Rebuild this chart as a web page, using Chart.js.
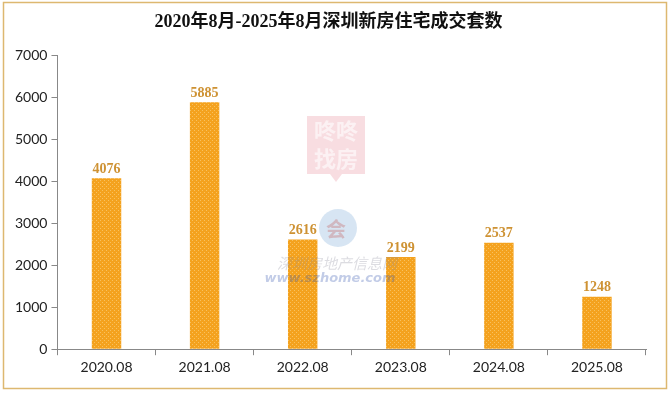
<!DOCTYPE html>
<html>
<head>
<meta charset="utf-8">
<script src="https://cdn.jsdelivr.net/npm/chart.js@4/dist/chart.umd.min.js"></script>
<style>
  html, body { margin: 0; padding: 0; background: #fff; }
  #wrap { width: 671px; height: 394px; }
</style>
</head>
<body>
<div id="wrap"><canvas id="chart" width="671" height="394"></canvas></div>
<script>
const months = ['2020.08', '2021.08', '2022.08', '2023.08', '2024.08', '2025.08'];
const sales = [4076, 5885, 2616, 2199, 2537, 1248];
const titleText = '2020年8月-2025年8月深圳新房住宅成交套数';

// dotted orange fill like the original bars
function barPattern() {
  const c = document.createElement('canvas');
  c.width = 4; c.height = 4;
  const g = c.getContext('2d');
  g.fillStyle = '#F4A21E';
  g.fillRect(0, 0, 4, 4);
  g.fillStyle = '#F9C15E';
  g.fillRect(0, 0, 1, 1);
  g.fillRect(2, 2, 1, 1);
  return g.createPattern(c, 'repeat');
}

const frameAndMarks = {
  id: 'frameAndMarks',
  beforeDraw(chart) {
    const ctx = chart.ctx;
    ctx.save();
    ctx.strokeStyle = '#DDB870';
    ctx.lineWidth = 1.5;
    ctx.strokeRect(3.5, 2.5, 663, 386);
    ctx.restore();
  },
  afterDatasetsDraw(chart) {
    const ctx = chart.ctx;
    const meta = chart.getDatasetMeta(0);
    ctx.save();
    ctx.fillStyle = '#CE9233';
    ctx.font = 'bold 14px "Liberation Serif"';
    ctx.textAlign = 'center';
    ctx.textBaseline = 'bottom';
    meta.data.forEach((bar, i) => {
      ctx.fillText(String(sales[i]), bar.x, bar.y - 2);
    });
    ctx.restore();
  },
  afterDraw(chart) {
    // faint watermarks on top
    const ctx = chart.ctx;
    ctx.save();
    ctx.textAlign = 'center';
    ctx.textBaseline = 'middle';
    ctx.globalAlpha = 0.18;
    ctx.fillStyle = '#D9435A';
    ctx.fillRect(307, 116, 58, 58);
    ctx.beginPath();
    ctx.moveTo(330, 174); ctx.lineTo(342, 174); ctx.lineTo(336, 182); ctx.fill();
    ctx.globalAlpha = 0.6;
    ctx.fillStyle = '#fff';
    ctx.font = 'bold 22px "Noto Sans CJK SC"';
    ctx.fillText('咚咚', 336, 131);
    ctx.fillText('找房', 336, 159);
    ctx.globalAlpha = 0.3;
    ctx.fillStyle = '#7AA9D8';
    ctx.beginPath();
    ctx.arc(338, 228, 19, 0, Math.PI * 2);
    ctx.fill();
    ctx.fillStyle = '#C0504D';
    ctx.font = 'bold 20px "Noto Sans CJK SC"';
    ctx.fillText('会', 336, 229);
    ctx.globalAlpha = 0.3;
    ctx.fillStyle = '#8A8A9A';
    ctx.font = 'italic 15px "Noto Sans CJK SC"';
    ctx.fillText('深圳房地产信息网', 337, 263);
    ctx.fillStyle = '#3455B0';
    ctx.font = 'italic bold 13px "DejaVu Sans"';
    ctx.fillText('www.szhome.com', 330, 279);
    ctx.restore();
  }
};

new Chart(document.getElementById('chart'), {
  type: 'bar',
  data: {
    labels: months,
    datasets: [{
      data: sales,
      backgroundColor: barPattern(),
      borderWidth: 0,
      categoryPercentage: 1,
      barPercentage: 0.3
    }]
  },
  options: {
    responsive: false,
    animation: false,
    layout: { padding: { left: 11, right: 25, top: 10, bottom: 14 } },
    plugins: {
      legend: { display: false },
      tooltip: { enabled: false },
      title: {
        display: true,
        text: titleText,
        color: '#111',
        font: { family: '"Liberation Serif", "Noto Sans CJK SC"', size: 18, weight: 'bold' },
        padding: { top: 2, bottom: 22 }
      }
    },
    scales: {
      x: {
        grid: { drawOnChartArea: false, tickLength: 6, color: '#888', offset: true },
        border: { color: '#888' },
        ticks: { color: '#222', font: { family: 'Lato', size: 14 }, padding: 4 }
      },
      y: {
        min: 0,
        max: 7000,
        ticks: {
          stepSize: 1000,
          color: '#222',
          font: { family: 'Lato', size: 14 },
          padding: 4,
          callback: v => String(v)
        },
        grid: { drawOnChartArea: false, tickLength: 6, color: '#888' },
        border: { color: '#888' }
      }
    }
  },
  plugins: [frameAndMarks]
});
</script>
</body>
</html>
